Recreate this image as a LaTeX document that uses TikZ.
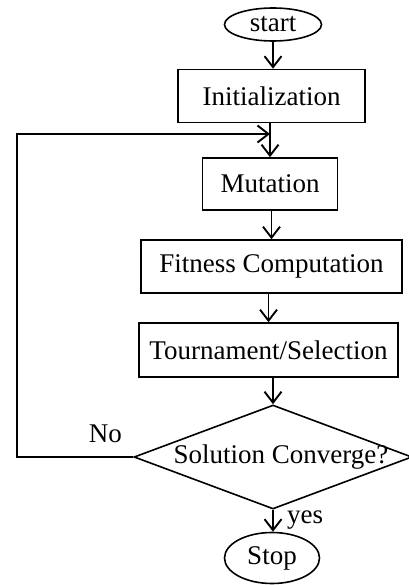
\documentclass[tikz,border=0pt]{standalone}
\usepackage{fontspec}
\setmainfont{Liberation Serif}
\usetikzlibrary{shapes.geometric, arrows.meta}
\tikzstyle{term} = [ellipse, minimum width=97pt, minimum height=33pt, inner sep=0pt, draw=black]
\tikzstyle{rect} = [rectangle, minimum height=53pt, inner sep=0pt, text centered, draw=black]
\tikzstyle{dec} = [diamond, minimum width=278pt, minimum height=104pt, inner sep=0pt, draw=black]
\tikzstyle{arrow} = [->,>={Straight Barb[length=11pt,width=17pt,line width=1.9pt]}]

\begin{document}
\begin{tikzpicture}[x=1pt,y=-1pt,line width=1.6pt,font=\fontsize{27}{32}\selectfont]
        \path[use as bounding box] (0,0) rectangle (408,585);
        \node (start) [term] at (273,24.5) {start};
        \node (init) [rect, minimum width=187pt] at (271.5,96) {Initialization};
        \node (mut) [rect, minimum width=135pt, minimum height=52pt] at (270,184) {Mutation};
        \node (fit) [rect, minimum width=261pt] at (271.5,266.5) {Fitness Computation};
        \node (tour) [rect, minimum width=259pt, minimum height=54pt] at (268.5,350) {Tournament/Selection};
        \node (conv) [dec, label={[xshift=8pt]center:Solution Converge?}] at (273,457) {};
        \node (stop) [term, minimum width=95pt, minimum height=51pt] at (272,558) {Stop};

        \draw [arrow] (start) -- (start |- init.north);
        \draw [arrow] (init.south -| mut) -- (mut);
        \draw [arrow] (mut.south -| fit) -- (fit);
        \draw [arrow] (fit.south -| tour) -- (tour);
        \draw [arrow] (tour.south -| conv) -- (conv);
        \draw [arrow] (conv) -- node[anchor=west, xshift=10pt, yshift=1pt]{yes} (conv.south |- stop.north);

        \coordinate (plain1) at (17,457);
        \coordinate (plain2) at (17,134);
        \coordinate (join) at (mut.north |- plain2);
        \draw [arrow] (conv.west) -- node[anchor=south, pos=0.24, yshift=10pt]{No} (plain1) -- (plain2) -- (join);
\end{tikzpicture}
\end{document}
